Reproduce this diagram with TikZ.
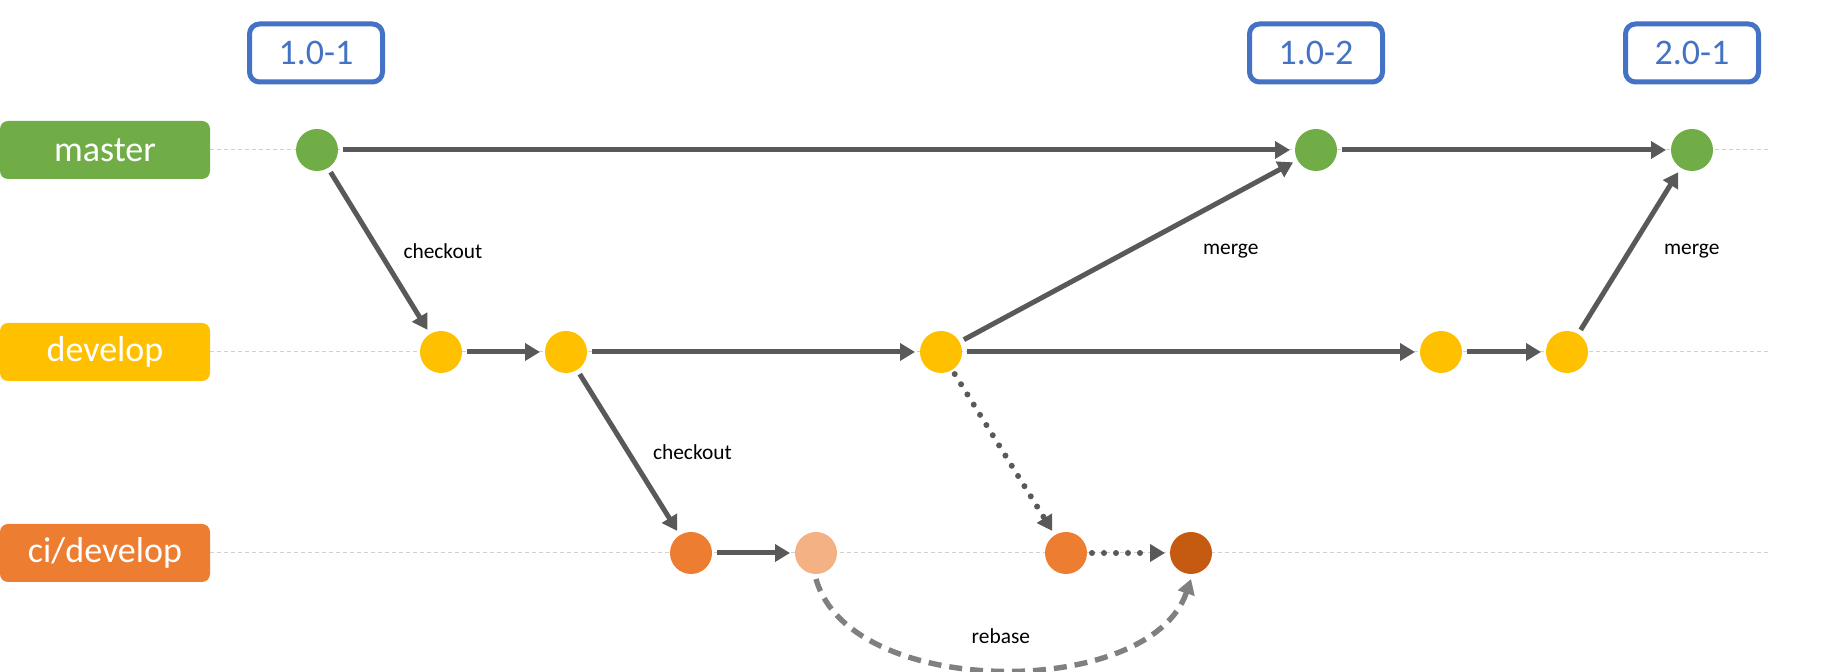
\documentclass[tikz,border=0pt]{standalone}
\usepackage{fontspec}
\setmainfont{Carlito}
\usetikzlibrary{arrows.meta,positioning}
\definecolor{gitgreen}{HTML}{70AD47}
\definecolor{gityellow}{HTML}{FFC000}
\definecolor{gitorange}{HTML}{ED7D31}
\definecolor{gitorangelight}{HTML}{F4B183}
\definecolor{gitorangedark}{HTML}{C55A11}
\definecolor{tagblue}{HTML}{4472C4}
\definecolor{arrowgrey}{HTML}{595959}
\definecolor{rebasegrey}{HTML}{808080}
\definecolor{guidegrey}{HTML}{D0D0D0}

\begin{document}
\begin{tikzpicture}[x=0.5pt, y=-0.5pt,
    branchbox/.style={rectangle, rounded corners=4pt, fill=#1, text=white, minimum width=105pt, minimum height=29pt, inner sep=0pt, font=\fontsize{18}{22}\selectfont},
    tagbox/.style={rectangle, rounded corners=5pt, draw=tagblue, line width=2.5pt, fill=white, text=tagblue, minimum width=66.5pt, minimum height=29pt, inner sep=0pt, font=\fontsize{18}{22}\selectfont},
    commit/.style={circle, fill=#1, minimum size=21pt, inner sep=0pt, outer sep=2.5pt},
    arrow/.style={-{Triangle[length=7.5pt, width=8.5pt]}, line width=2.5pt, draw=arrowgrey},
    dotarrow/.style={arrow, line width=3pt, line cap=round, dash pattern=on 0pt off 6pt},
    rebasearrow/.style={arrow, draw=rebasegrey, line width=2.7pt, dash pattern=on 6.5pt off 4pt},
    guide/.style={draw=guidegrey, line width=0.5pt, dash pattern=on 2pt off 1.5pt},
    lbl/.style={font=\fontsize{10.7}{13}\selectfont, inner sep=0pt}
]
\useasboundingbox (0,0) rectangle (1828,672);

\node[branchbox=gitgreen] (master) at (105,150) {master};
\node[branchbox=gityellow] (develop) at (105,352) {develop};
\node[branchbox=gitorange] (cidev) at (105,553) {ci/develop};

\coordinate (gend) at (1769,0);
\foreach \b in {master,develop,cidev}
  \draw[guide] (\b.east) -- (\b.east -| gend);

\node[commit=gitgreen] (m1) at (317,150) {};
\node[commit=gitgreen] (m2) at (1316,150) {};
\node[commit=gitgreen] (m3) at (1692,150) {};
\node[commit=gityellow] (d1) at (441,352) {};
\node[commit=gityellow] (d2) at (566,352) {};
\node[commit=gityellow] (d3) at (941,352) {};
\node[commit=gityellow] (d4) at (1441,352) {};
\node[commit=gityellow] (d5) at (1567,352) {};
\node[commit=gitorange] (c1) at (691,553) {};
\node[commit=gitorangelight] (c2) at (816,553) {};
\node[commit=gitorange] (c3) at (1066,553) {};
\node[commit=gitorangedark] (c4) at (1191,553) {};

\node[tagbox] (tag101) at (316,53) {1.0-1};
\node[tagbox] (tag102) at (1316,53) {1.0-2};
\node[tagbox] (tag201) at (1692,53) {2.0-1};

\draw[arrow] (m1) -- (m2);
\draw[arrow] (m2) -- (m3);
\draw[arrow] (m1) -- node[lbl, anchor=west, xshift=11pt] (lco1) {checkout} (d1);
\draw[arrow] (d1) -- (d2);
\draw[arrow] (d2) -- (d3);
\draw[arrow] (d3) -- (d4);
\draw[arrow] (d4) -- (d5);
\draw[arrow] (d3) -- node[lbl, anchor=west, xshift=36pt] (lmg1) {merge} (m2);
\draw[arrow] (d5) -- node[lbl, anchor=west, xshift=16pt] (lmg2) {merge} (m3);
\draw[arrow] (d2) -- node[lbl, anchor=west, xshift=11pt] (lco2) {checkout} (c1);
\draw[arrow] (c1) -- (c2);
\draw[dotarrow] (d3) -- (c3);
\draw[dotarrow] (c3) -- (c4);
\draw[rebasearrow] (c2.south) .. controls (850,700) and (1150,700) .. node[lbl, yshift=17pt] (lrb) {rebase} (c4.south);
\end{tikzpicture}
\end{document}
